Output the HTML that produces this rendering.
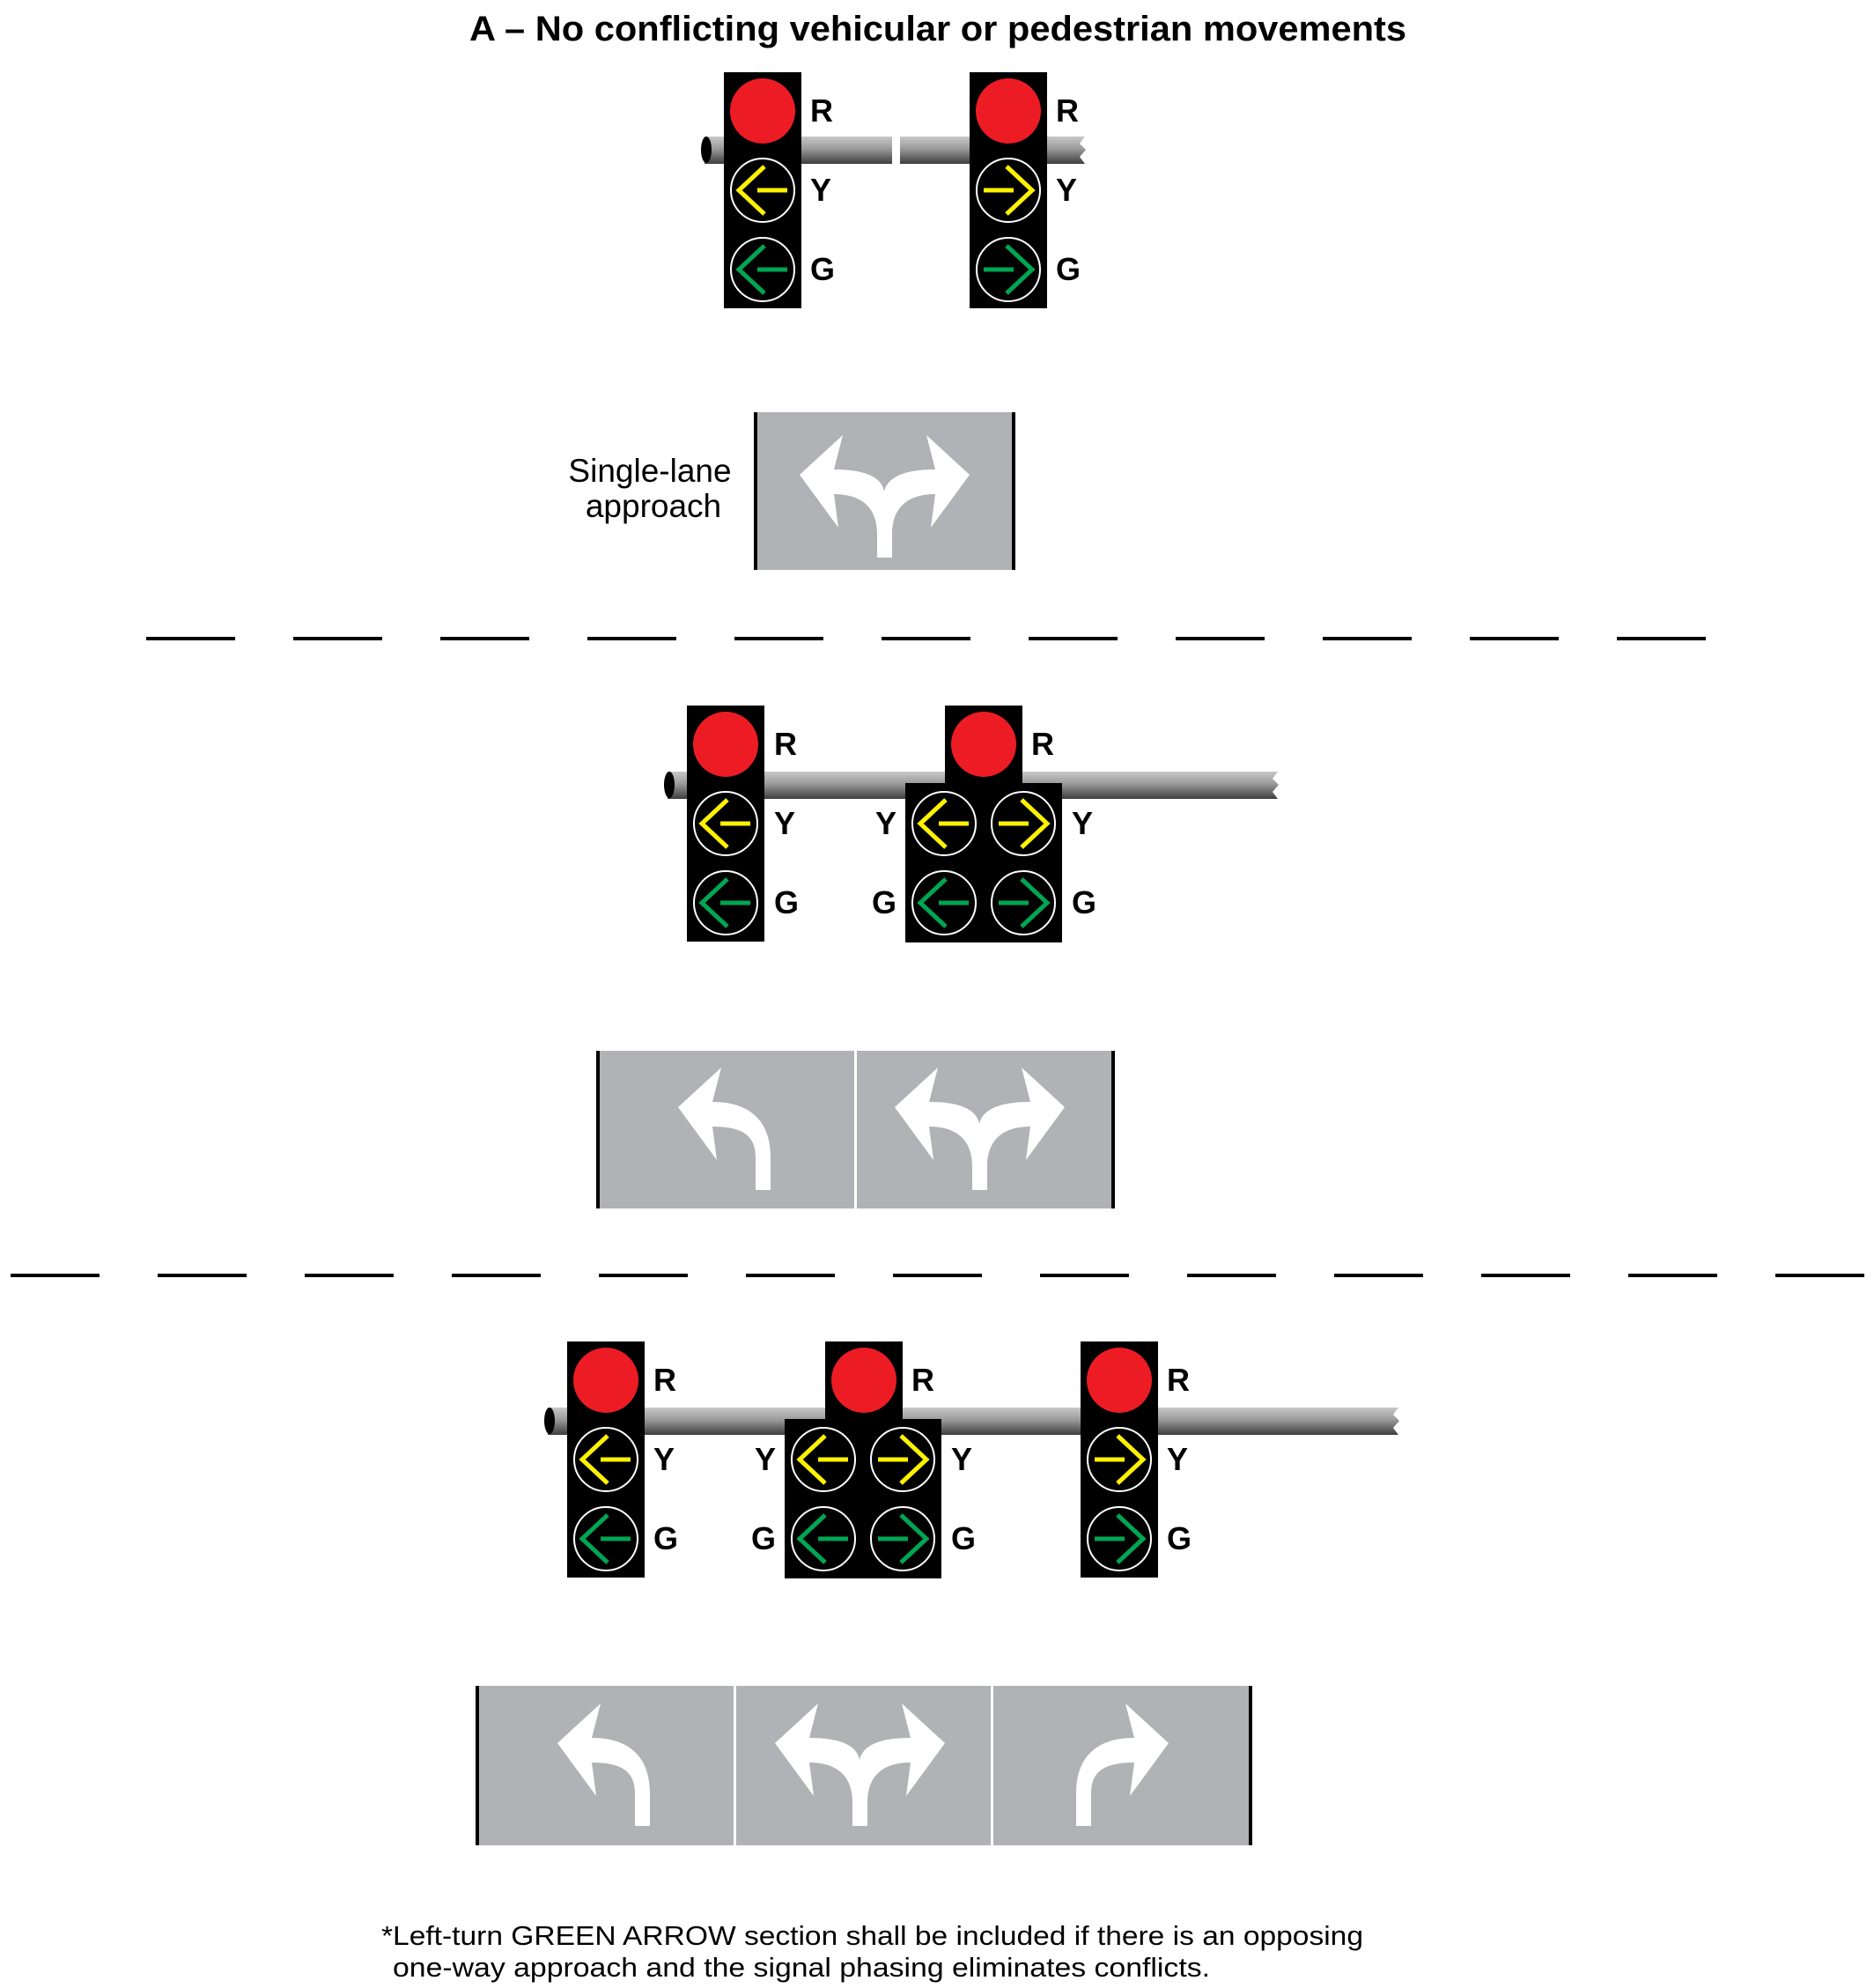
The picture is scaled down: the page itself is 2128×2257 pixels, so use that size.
<!DOCTYPE html>
<html><head><meta charset="utf-8"><style>html,body{margin:0;padding:0;background:#fff}svg{display:block}</style></head>
<body>
<svg xmlns="http://www.w3.org/2000/svg" width="2128" height="2257" viewBox="0 0 2128 2257">
<defs>
<linearGradient id="bar" x1="0" y1="0" x2="0" y2="1">
<stop offset="0" stop-color="#c8c8c8"/><stop offset="0.45" stop-color="#9a9a9a"/><stop offset="1" stop-color="#3e3e3e"/>
</linearGradient>
<g id="red"><rect width="88" height="88" fill="#000"/><circle cx="44" cy="44" r="37" fill="#ed1c24"/></g>
<g id="yl"><rect width="88" height="88" fill="#000"/><circle cx="44" cy="44" r="36" fill="none" stroke="#fff" stroke-width="2"/><path d="M46,17 L17,44 L46,71 M38,44 L72,44" fill="none" stroke="#fff200" stroke-width="5"/></g>
<g id="yr"><rect width="88" height="88" fill="#000"/><circle cx="44" cy="44" r="36" fill="none" stroke="#fff" stroke-width="2"/><path d="M42,17 L71,44 L42,71 M50,44 L16,44" fill="none" stroke="#fff200" stroke-width="5"/></g>
<g id="gl"><rect width="88" height="88" fill="#000"/><circle cx="44" cy="44" r="36" fill="none" stroke="#fff" stroke-width="2"/><path d="M46,17 L17,44 L46,71 M38,44 L72,44" fill="none" stroke="#00a651" stroke-width="5"/></g>
<g id="gr"><rect width="88" height="88" fill="#000"/><circle cx="44" cy="44" r="36" fill="none" stroke="#fff" stroke-width="2"/><path d="M42,17 L71,44 L42,71 M50,44 L16,44" fill="none" stroke="#00a651" stroke-width="5"/></g>
<g id="headL"><rect x="0" y="0" width="88" height="268" fill="#000"/><use href="#red"/><use href="#yl" y="90"/><use href="#gl" y="180"/></g>
<g id="headR"><rect x="0" y="0" width="88" height="268" fill="#000"/><use href="#red"/><use href="#yr" y="90"/><use href="#gr" y="180"/></g>
<path id="dbl" fill="#fff" d="M67,73 L116,28 L106,67 C140,67 160,75 163,92 C167,75 187,67 221,67 L211,28 L260,73 L216,133 L221,95 C190,95 172,110 172,140 L172,167 L155,167 L155,140 C155,110 137,95 106,95 L111,133 Z"/>
<path id="lft" fill="#fff" d="M67,73 L116,28 L106,67 C150,67 172,90 172,130 L172,167 L155,167 L155,130 C155,105 140,95 106,95 L111,133 Z"/>
</defs>

<g font-family="Liberation Sans, Arial, sans-serif">
<text x="1065" y="46" font-size="40" font-weight="bold" text-anchor="middle" textLength="1064" lengthAdjust="spacingAndGlyphs">A – No conflicting vehicular or pedestrian movements</text>

<!-- Row 1 -->
<rect x="800" y="155" width="213" height="31" fill="url(#bar)"/>
<ellipse cx="802" cy="170" rx="6" ry="15" fill="#000"/>
<path d="M1022,155 L1232,155 L1226,163 L1233,170 L1226,178 L1232,186 L1022,186 Z" fill="url(#bar)"/>
<use href="#headL" x="822" y="82"/>
<use href="#headR" x="1101" y="82"/>
<g font-size="36" font-weight="bold">
<text x="920" y="138">R</text><text x="920" y="228">Y</text><text x="920" y="318">G</text>
<text x="1199" y="138">R</text><text x="1199" y="228">Y</text><text x="1199" y="318">G</text>
</g>

<text x="738" y="547" font-size="37" text-anchor="middle">Single-lane</text>
<text x="742" y="587" font-size="37" text-anchor="middle">approach</text>
<rect x="856" y="468" width="296" height="179" fill="#b1b2b5"/>
<rect x="856" y="468" width="4" height="179" fill="#000"/>
<rect x="1149" y="468" width="4" height="179" fill="#000"/>
<use href="#dbl" x="841" y="466"/>

<!-- dashes row 1 -->
<g fill="#000">
<rect x="166" y="723" width="101" height="4"/><rect x="333" y="723" width="101" height="4"/><rect x="500" y="723" width="101" height="4"/><rect x="667" y="723" width="101" height="4"/><rect x="834" y="723" width="101" height="4"/><rect x="1001" y="723" width="101" height="4"/><rect x="1168" y="723" width="101" height="4"/><rect x="1335" y="723" width="101" height="4"/><rect x="1502" y="723" width="101" height="4"/><rect x="1669" y="723" width="101" height="4"/><rect x="1836" y="723" width="101" height="4"/>
</g>

<!-- Row 2 -->
<path d="M758,876 L1451,876 L1445,884 L1452,891 L1445,899 L1451,907 L758,907 Z" fill="url(#bar)"/>
<ellipse cx="760" cy="891" rx="6" ry="15" fill="#000"/>
<use href="#headL" x="780" y="801"/>
<use href="#red" x="1073" y="801"/>
<rect x="1028" y="889" width="178" height="181" fill="#000"/>
<use href="#yl" x="1028" y="891"/><use href="#yr" x="1118" y="891"/>
<use href="#gl" x="1028" y="981"/><use href="#gr" x="1118" y="981"/>
<g font-size="36" font-weight="bold">
<text x="879" y="857">R</text><text x="879" y="947">Y</text><text x="879" y="1037">G</text>
<text x="1171" y="857">R</text>
<text x="1018" y="947" text-anchor="end">Y</text><text x="1018" y="1037" text-anchor="end">G</text>
<text x="1217" y="947">Y</text><text x="1217" y="1037">G</text>
</g>

<rect x="677" y="1193" width="293" height="179" fill="#b1b2b5"/>
<rect x="973" y="1193" width="292" height="179" fill="#b1b2b5"/>
<rect x="677" y="1193" width="4" height="179" fill="#000"/>
<rect x="1262" y="1193" width="4" height="179" fill="#000"/>
<use href="#lft" x="703" y="1184"/>
<use href="#dbl" x="949" y="1184"/>

<!-- dashes row 2 -->
<g fill="#000">
<rect x="12" y="1446" width="101" height="4"/><rect x="179" y="1446" width="101" height="4"/><rect x="346" y="1446" width="101" height="4"/><rect x="513" y="1446" width="101" height="4"/><rect x="680" y="1446" width="101" height="4"/><rect x="847" y="1446" width="101" height="4"/><rect x="1014" y="1446" width="101" height="4"/><rect x="1181" y="1446" width="101" height="4"/><rect x="1348" y="1446" width="101" height="4"/><rect x="1515" y="1446" width="101" height="4"/><rect x="1682" y="1446" width="101" height="4"/><rect x="1849" y="1446" width="101" height="4"/><rect x="2016" y="1446" width="101" height="4"/>
</g>

<!-- Row 3 -->
<path d="M622,1598 L1588,1598 L1582,1606 L1589,1613 L1582,1621 L1588,1629 L622,1629 Z" fill="url(#bar)"/>
<ellipse cx="624" cy="1613" rx="6" ry="15" fill="#000"/>
<use href="#headL" x="644" y="1523"/>
<use href="#red" x="937" y="1523"/>
<rect x="891" y="1611" width="178" height="181" fill="#000"/>
<use href="#yl" x="891" y="1613"/><use href="#yr" x="981" y="1613"/>
<use href="#gl" x="891" y="1703"/><use href="#gr" x="981" y="1703"/>
<use href="#headR" x="1227" y="1523"/>
<g font-size="36" font-weight="bold">
<text x="742" y="1579">R</text><text x="742" y="1669">Y</text><text x="742" y="1759">G</text>
<text x="1035" y="1579">R</text>
<text x="881" y="1669" text-anchor="end">Y</text><text x="881" y="1759" text-anchor="end">G</text>
<text x="1080" y="1669">Y</text><text x="1080" y="1759">G</text>
<text x="1325" y="1579">R</text><text x="1325" y="1669">Y</text><text x="1325" y="1759">G</text>
</g>

<rect x="540" y="1914" width="293" height="181" fill="#b1b2b5"/>
<rect x="836" y="1914" width="289" height="181" fill="#b1b2b5"/>
<rect x="1128" y="1914" width="293" height="181" fill="#b1b2b5"/>
<rect x="540" y="1914" width="4" height="181" fill="#000"/>
<rect x="1418" y="1914" width="4" height="181" fill="#000"/>
<use href="#lft" x="566" y="1906"/>
<use href="#dbl" x="813" y="1906"/>
<use href="#lft" transform="translate(1394,1906) scale(-1,1)"/>

<text x="433" y="2208" font-size="31" textLength="1115" lengthAdjust="spacingAndGlyphs">*Left-turn GREEN ARROW section shall be included if there is an opposing</text>
<text x="446" y="2244" font-size="31" textLength="928" lengthAdjust="spacingAndGlyphs">one-way approach and the signal phasing eliminates conflicts.</text>
</g>
</svg>
</body></html>
